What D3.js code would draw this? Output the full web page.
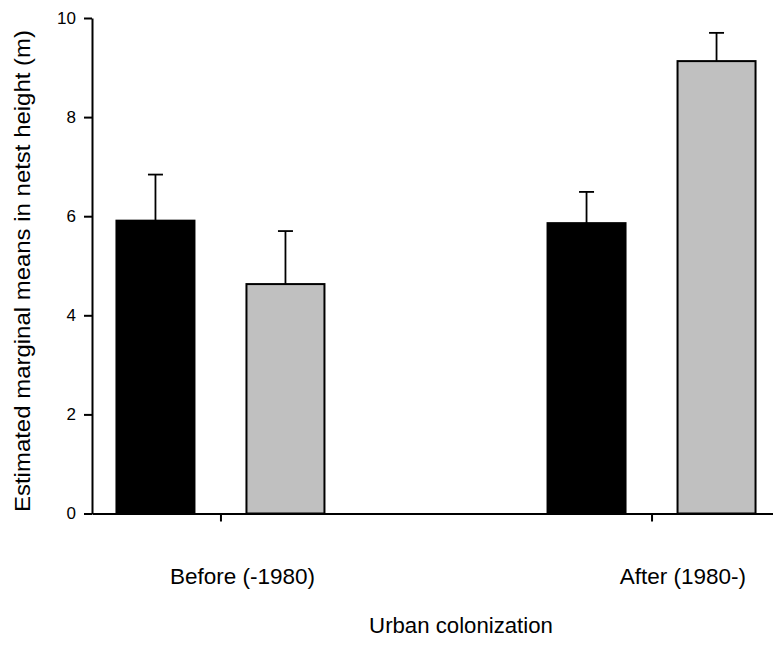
<!DOCTYPE html>
<html>
<head>
<meta charset="utf-8">
<script src="https://cdn.jsdelivr.net/npm/d3@7"></script>
<style>
  html, body { margin: 0; padding: 0; background: #fff; }
  svg { display: block; }
  text { font-family: "Liberation Sans", Arial, sans-serif; fill: #000; }
</style>
</head>
<body>
<svg id="chart" width="773" height="645"></svg>
<script>
// ---- data ----
const categories = ["Before (-1980)", "After (1980-)"];
const seriesNames = ["Series A", "Series B"];
const seriesA = [5.91, 5.86];       // black bars
const seriesB = [4.63, 9.13];       // grey bars
const errorsA = [0.93, 0.63];
const errorsB = [1.07, 0.57];
const yTicks = [0, 2, 4, 6, 8, 10];
const xTitle = "Urban colonization";
const yTitle = "Estimated marginal means in netst height (m)";

// ---- layout ----
(function () {
const svg = d3.select("#chart");
const mLeft = 92, mRight = 780, mTop = 18, mBottom = 513.5;
const colors = { "Series A": "#000000", "Series B": "#c0c0c0" };

const rows = [];
categories.forEach((c, i) => {
  rows.push({ cat: c, s: "Series A", v: seriesA[i], e: errorsA[i] });
  rows.push({ cat: c, s: "Series B", v: seriesB[i], e: errorsB[i] });
});

const x = d3.scalePoint().domain(categories).range([mLeft, mRight]).padding(0.298);
const xs = d3.scaleBand().domain(seriesNames).range([-104, 104]).paddingInner(0.4).paddingOuter(0);
const y = d3.scaleLinear().domain([0, 10]).range([mBottom, mTop]);

// bars
svg.append("g").selectAll("rect").data(rows).join("rect")
  .attr("x", d => x(d.cat) + xs(d.s))
  .attr("y", d => y(d.v))
  .attr("width", xs.bandwidth())
  .attr("height", d => y(0) - y(d.v))
  .attr("fill", d => colors[d.s])
  .attr("stroke", "#000")
  .attr("stroke-width", 2);

// error bars (upper only)
const eb = svg.append("g").attr("stroke", "#000").attr("stroke-width", 1.8);
rows.forEach(d => {
  const cx = x(d.cat) + xs(d.s) + xs.bandwidth() / 2;
  eb.append("line").attr("x1", cx).attr("x2", cx).attr("y1", y(d.v)).attr("y2", y(d.v + d.e));
  eb.append("line").attr("x1", cx - 7.5).attr("x2", cx + 7.5).attr("y1", y(d.v + d.e)).attr("y2", y(d.v + d.e));
});

// y axis
const yAxis = svg.append("g").attr("transform", `translate(${mLeft},0)`)
  .call(d3.axisLeft(y).tickValues(yTicks).tickSize(8).tickSizeOuter(0).tickPadding(8).tickFormat(d3.format("d")));
yAxis.select(".domain").attr("stroke-width", 2);
yAxis.selectAll(".tick line").attr("stroke-width", 2);
yAxis.selectAll(".tick text").attr("font-size", 17).attr("font-family", "Liberation Sans, Arial, sans-serif");

// x axis
const xAxis = svg.append("g").attr("transform", `translate(0,${mBottom})`)
  .call(d3.axisBottom(x).tickSize(8).tickSizeOuter(0));
xAxis.select(".domain").attr("stroke-width", 2);
xAxis.selectAll(".tick line").attr("stroke-width", 2);
xAxis.selectAll(".tick text")
  .attr("font-size", 22.5)
  .attr("font-family", "Liberation Sans, Arial, sans-serif")
  .attr("text-anchor", "end")
  .attr("x", 94).attr("y", 70).attr("dy", 0);

// titles
svg.append("text")
  .attr("x", 461).attr("y", 633)
  .attr("text-anchor", "middle")
  .attr("font-size", 22.2)
  .text(xTitle);

svg.append("text")
  .attr("transform", "translate(30,271) rotate(-90)")
  .attr("text-anchor", "middle")
  .attr("font-size", 22)
  .attr("textLength", 482)
  .attr("lengthAdjust", "spacingAndGlyphs")
  .text(yTitle);
})();
</script>
</body>
</html>
